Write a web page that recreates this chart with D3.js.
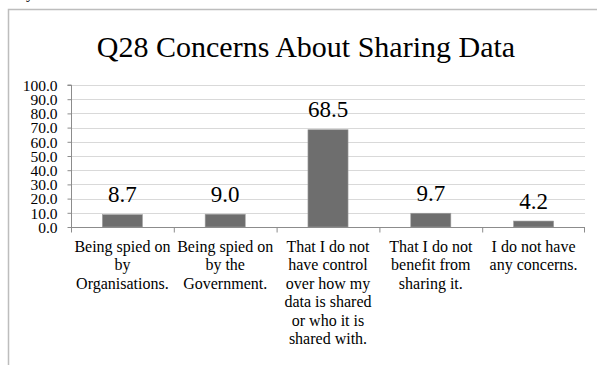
<!DOCTYPE html>
<html><head><meta charset="utf-8">
<script src="https://cdn.jsdelivr.net/npm/d3@7"></script>
</head><body style="margin:0;background:#fff">
<svg id="c" width="597" height="365" style="display:block"></svg>
<script>
const categories = [
  ["Being spied on","by","Organisations."],
  ["Being spied on","by the","Government."],
  ["That I do not","have control","over how my","data is shared","or who it is","shared with."],
  ["That I do not","benefit from","sharing it."],
  ["I do not have","any concerns."]
];
const values = [8.7, 9.0, 68.5, 9.7, 4.2];
const yTicks = [0,10,20,30,40,50,60,70,80,90,100];
const title = "Q28 Concerns About Sharing Data";

(function(){
const FF = "'Liberation Serif', 'Times New Roman', serif";
const svg = d3.select("#c");
svg.append("path").attr("d","M8.5,365 V9.5 H597").attr("fill","none").attr("stroke","#bdbdbd").attr("stroke-width",1.5);
svg.append("text").attr("x",26).attr("y",-2).attr("font-size",16).style("font-family",FF).text("y");

svg.append("text").attr("x",306).attr("y",57).attr("text-anchor","middle").attr("font-size",30).style("font-family",FF).text(title);

const pl=71, pr=585, pt=85, pb=227;
const x = d3.scaleBand().domain(d3.range(values.length)).range([pl,pr]).paddingInner(0.61).paddingOuter(0.305);
const xb = d3.scaleBand().domain(d3.range(values.length)).range([pl,pr]);
const y = d3.scaleLinear().domain([0,100]).range([pb,pt]);

svg.append("g").selectAll("line").data(yTicks.filter(d=>d>0)).join("line")
  .attr("x1",pl).attr("x2",pr).attr("y1",d=>Math.round(y(d))+0.5).attr("y2",d=>Math.round(y(d))+0.5)
  .attr("stroke","#d9d9d9").attr("stroke-width",1);

const ya = svg.append("g").attr("transform",`translate(${pl+0.5},0)`)
  .call(d3.axisLeft(y).tickValues(yTicks).tickFormat(d3.format(".1f")).tickSize(4).tickPadding(10));
ya.attr("font-family",null);
ya.select(".domain").attr("stroke","#8c8c8c").attr("d",`M-4,${y(100)}H0V${pb+0.5}`);
ya.selectAll(".tick line").attr("stroke","#8c8c8c");
ya.selectAll(".tick text").attr("font-size",15.5).style("font-family",FF).attr("fill","#000").attr("dy","0.34em");

svg.append("g").selectAll("rect").data(values).join("rect")
  .attr("x",(d,i)=>x(i)).attr("width",x.bandwidth())
  .attr("y",d=>y(d)).attr("height",d=>pb-y(d))
  .attr("fill","#6e6e6e").attr("stroke","#a0a0a0").attr("stroke-width",0.6);

const xa = svg.append("g").attr("transform",`translate(0,${pb+0.5})`);
xa.append("line").attr("x1",pl).attr("x2",pr).attr("stroke","#8c8c8c");
xa.selectAll("line.t").data(d3.range(values.length+1)).join("line").attr("class","t")
  .attr("x1",i=>i<values.length?xb(i)+0.5:pr-0.5).attr("x2",i=>i<values.length?xb(i)+0.5:pr-0.5)
  .attr("y1",0).attr("y2",5).attr("stroke","#8c8c8c");

svg.append("g").selectAll("text").data(values).join("text")
  .attr("x",(d,i)=>x(i)+x.bandwidth()/2).attr("y",d=>y(d)-12.5)
  .attr("text-anchor","middle").attr("font-size",23).style("font-family",FF).text(d=>d3.format(".1f")(d));

const cl = svg.append("g").selectAll("text").data(categories).join("text")
  .attr("x",(d,i)=>xb(i)+xb.bandwidth()/2).attr("y",252)
  .attr("text-anchor","middle").attr("font-size",16).style("font-family",FF);
cl.selectAll("tspan").data(d=>d).join("tspan")
  .attr("x",function(){return this.parentNode.getAttribute("x");})
  .attr("dy",(d,i)=>i===0?0:18.4).text(d=>d);
})();
</script>
</body></html>
